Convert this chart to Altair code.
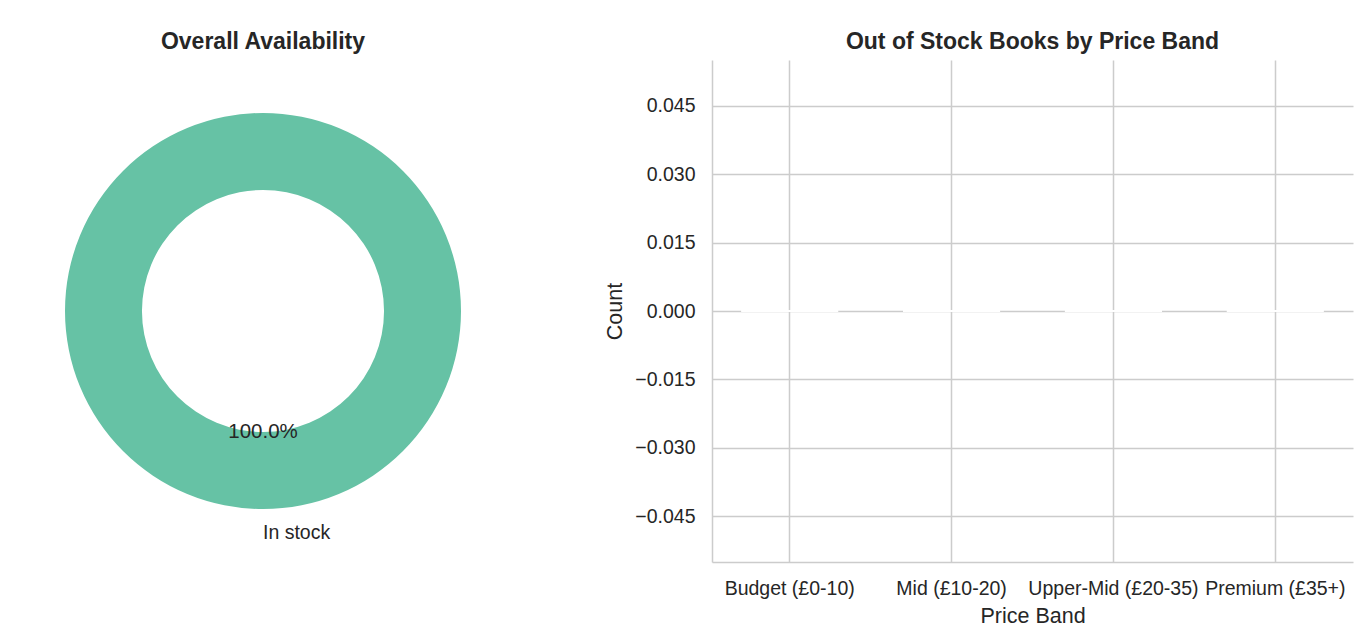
import altair as alt
import pandas as pd

# Availability split (share of catalogue, %)
status = ["In stock"]
status_share = [100.0]

# Out-of-stock counts per price band
price_bands = ["Budget (£0-10)", "Mid (£10-20)", "Upper-Mid (£20-35)", "Premium (£35+)"]
out_of_stock = [0, 0, 0, 0]
band_colors = ["#66c2a5", "#fc8d62", "#8da0cb", "#e78ac3"]

y_ticks = [-0.045, -0.030, -0.015, 0.0, 0.015, 0.030, 0.045]

FONT = "Liberation Sans"
TEXT = "#262626"
GRID = "#cccccc"

avail = pd.DataFrame({"status": status, "share": status_share})
bands = pd.DataFrame({"band": price_bands, "count": out_of_stock})

base = alt.Chart(avail).encode(theta=alt.Theta("share:Q", stack=True))

donut = base.mark_arc(innerRadius=121, outerRadius=198, color="#66c2a5")

pct = base.transform_calculate(
    label="format(datum.share, '.1f') + '%'"
).mark_text(radius=121, font=FONT, fontSize=20.5, color=TEXT).encode(text="label:N")

name = base.mark_text(
    radius=222, align="left", baseline="middle", font=FONT, fontSize=19.5, color=TEXT
).encode(text="status:N")

left = alt.layer(donut, pct, name).properties(
    width=526, height=502,
    title=alt.TitleParams("Overall Availability"),
)

bars = alt.Chart(bands).mark_bar(stroke="white", strokeWidth=2).encode(
    x=alt.X(
        "band:N", sort=price_bands, title="Price Band",
        scale=alt.Scale(paddingInner=0.4, paddingOuter=0.18),
        axis=alt.Axis(labelAngle=0, bandPosition=0.5, ticks=False, labelOverlap=False,
                      labelBound=False, labelPadding=17, titlePadding=8),
    ),
    y=alt.Y(
        "count:Q", title="Count",
        scale=alt.Scale(domain=[-0.055, 0.055], nice=False, zero=False),
        axis=alt.Axis(values=y_ticks, format=".3f", ticks=False, labelPadding=17,
                      titlePadding=8),
    ),
    color=alt.Color("band:N", sort=price_bands,
                    scale=alt.Scale(domain=price_bands, range=band_colors), legend=None),
).properties(
    width=641, height=502,
    title=alt.TitleParams("Out of Stock Books by Price Band"),
)

chart = alt.hconcat(left, bars, spacing=78).properties(
    padding={"left": 0, "top": 31, "right": 10, "bottom": 0}
).configure(
    font=FONT,
    background="white",
).configure_view(
    stroke=None,
).configure_title(
    font=FONT, fontSize=23, fontWeight="bold", color=TEXT, offset=6, anchor="middle",
).configure_axis(
    labelFont=FONT, titleFont=FONT, labelFontSize=19.5, titleFontSize=21.5,
    titleFontWeight="normal", labelColor=TEXT, titleColor=TEXT,
    gridColor=GRID, gridWidth=1.5, domainColor=GRID, domainWidth=1.5, grid=True,
)

chart.save("out.html", embed_options={"renderer": "svg", "actions": False})
